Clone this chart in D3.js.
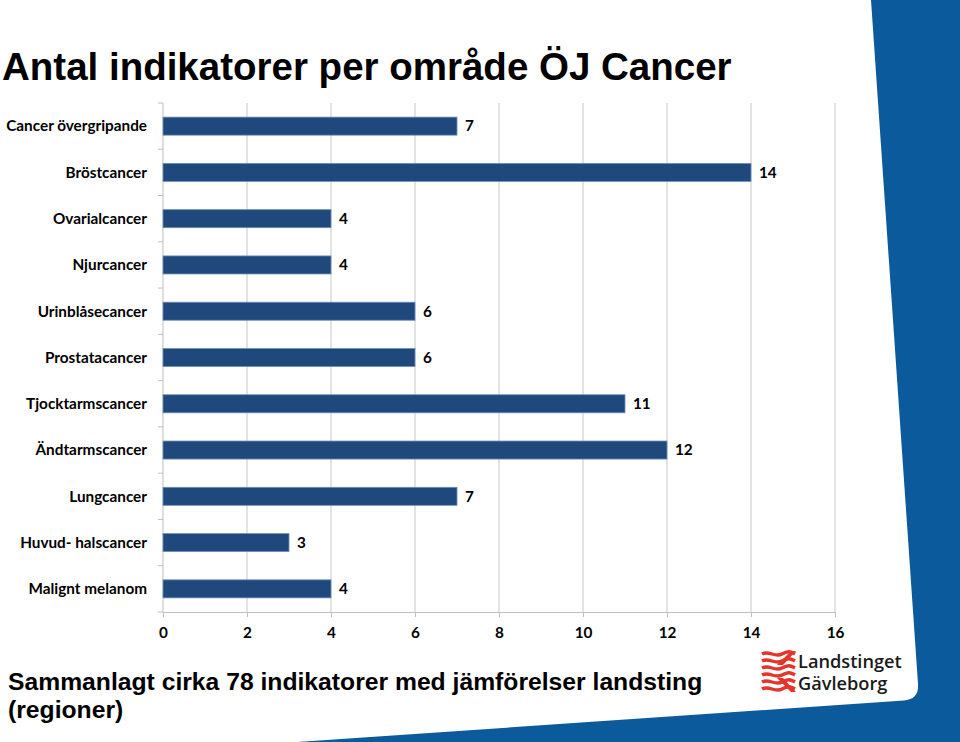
<!DOCTYPE html>
<html><head><meta charset="utf-8">
<script src="https://cdn.jsdelivr.net/npm/d3@7"></script>
<style>body{margin:0;background:#fff}svg{display:block}</style>
</head><body><svg id="c" width="960" height="742"></svg>
<script>
const categories = ["Cancer övergripande","Bröstcancer","Ovarialcancer","Njurcancer","Urinblåsecancer","Prostatacancer","Tjocktarmscancer","Ändtarmscancer","Lungcancer","Huvud- halscancer","Malignt melanom"];
const values = [7,14,4,4,6,6,11,12,7,3,4];
const xTicks = [0,2,4,6,8,10,12,14,16];
const title = "Antal indikatorer per område ÖJ Cancer";
const subtitleLines = ["Sammanlagt cirka 78 indikatorer med jämförelser landsting","(regioner)"];
const logoLines = ["Landstinget","Gävleborg"];

const svg = d3.select("#c");
const W = 960, H = 742;

// background: blue frame with white card
svg.append("rect").attr("width", W).attr("height", H).attr("fill", "#0b5a9c");
svg.append("path")
  .attr("d", "M0,0 L871,0 L918,684 Q919.3,699.4 904,700.4 L290,742.5 L0,762 Z")
  .attr("fill", "#ffffff");

// title
svg.append("text").attr("x", 2).attr("y", 80)
  .attr("font-family", "Liberation Sans, Arial, sans-serif")
  .attr("font-weight", "bold").attr("font-size", 38.5).attr("fill", "#000")
  .text(title);

const x = d3.scaleLinear().domain([0, 16]).range([163, 835]);
const y = d3.scaleBand().domain(categories).range([103, 612]).paddingInner(0.61).paddingOuter(0.305);

const labelFont = "Lato, 'Open Sans', sans-serif";
const labelSize = 15.3;

// gridlines
svg.append("g").selectAll("line").data(xTicks.filter(d => d > 0)).join("line")
  .attr("x1", d => x(d)).attr("x2", d => x(d)).attr("y1", 103).attr("y2", 612)
  .attr("stroke", "#d0d0d0").attr("stroke-width", 1.2);

// x axis
const xAxis = d3.axisBottom(x).tickValues(xTicks).tickSize(5).tickPadding(10).tickFormat(d3.format("d"));
const gx = svg.append("g").attr("transform", "translate(0,612)").call(xAxis);
gx.select(".domain").attr("stroke", "#bfbfbf");
gx.selectAll(".tick line").attr("stroke", "#bfbfbf");
gx.selectAll(".tick text").attr("font-family", labelFont).attr("font-weight", "bold")
  .attr("font-size", labelSize).attr("fill", "#000");

// y axis
const bounds = d3.range(categories.length + 1).map(i => 103 + i * (509 / categories.length));
svg.append("line").attr("x1", 163).attr("x2", 163).attr("y1", 103).attr("y2", 612).attr("stroke", "#bfbfbf");
svg.append("g").selectAll("line").data(bounds).join("line")
  .attr("x1", 158).attr("x2", 163).attr("y1", d => d).attr("y2", d => d).attr("stroke", "#bfbfbf");

// category labels
svg.append("g").selectAll("text").data(categories).join("text")
  .attr("x", 147).attr("y", d => y(d) + y.bandwidth() / 2)
  .attr("dy", "0.35em").attr("text-anchor", "end")
  .attr("font-family", labelFont).attr("font-weight", "bold").attr("font-size", labelSize).attr("fill", "#000")
  .text(d => d);

// bars
const data = categories.map((c, i) => ({c, v: values[i]}));
svg.append("g").selectAll("rect").data(data).join("rect")
  .attr("x", x(0)).attr("y", d => y(d.c)).attr("width", d => x(d.v) - x(0)).attr("height", y.bandwidth())
  .attr("fill", "#1f497d").attr("stroke", "#6f8fba").attr("stroke-width", 0.8);

svg.append("g").selectAll("text").data(data).join("text")
  .attr("x", d => x(d.v) + 8).attr("y", d => y(d.c) + y.bandwidth() / 2).attr("dy", "0.35em")
  .attr("font-family", labelFont).attr("font-weight", "bold").attr("font-size", labelSize).attr("fill", "#000")
  .text(d => d.v);

// subtitle
svg.append("text").attr("x", 8).attr("y", 690)
  .attr("font-family", "Liberation Sans, Arial, sans-serif").attr("font-weight", "bold").attr("font-size", 24.7).attr("fill", "#000")
  .selectAll("tspan").data(subtitleLines).join("tspan")
  .attr("x", 8).attr("dy", (d, i) => i === 0 ? 0 : 28).text(d => d);

// logo
const logo = svg.append("g").attr("transform", "translate(762,651)");
const red = "#e4342b";
logo.append("path").attr("d", "M29,0 L34,0 L21,14 L15,14 Z").attr("fill", red);
logo.append("path").attr("d", "M15,27 L21,27 L34,41 L29,41 Z").attr("fill", red);
[3, 10, 17, 24, 31, 38].forEach(yy => {
  logo.append("path")
    .attr("d", `M0,${yy} C7,${yy - 4} 13,${yy + 4} 20,${yy} S29,${yy - 2} 33,${yy}`)
    .attr("fill", "none").attr("stroke", red).attr("stroke-width", 3.4);
});
logo.selectAll("text.l").data(logoLines).join("text")
  .attr("x", 36).attr("y", (d, i) => 17 + i * 22)
  .attr("font-family", "'Open Sans', sans-serif").attr("font-weight", 600).attr("font-size", 18.2).attr("fill", "#1a1a1a")
  .text(d => d);
</script></body></html>
